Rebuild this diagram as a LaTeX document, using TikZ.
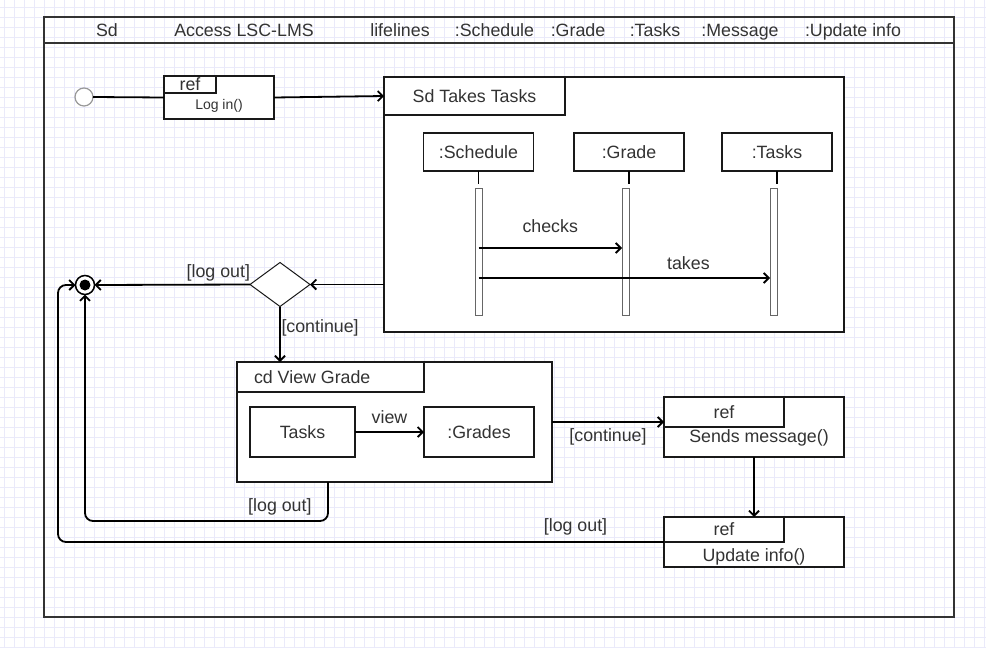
\documentclass[tikz,border=0pt]{standalone}
\usepackage{fontspec}
\setmainfont{Liberation Sans}
\usetikzlibrary{shapes.geometric,arrows.meta}

\begin{document}
\begin{tikzpicture}[x=1pt, y=-1pt,
    every node/.style={font=\fontsize{17.8}{21}\selectfont, text=black!80, inner sep=0pt, outer sep=0pt},
    box/.style={draw=black!90, fill=white, line width=1.2pt},
    tab/.style={box, anchor=north west},
    head/.style={box, minimum width=110, minimum height=38},
    bar/.style={draw=black!60, fill=white, line width=1pt, minimum width=7, minimum height=127},
    flow/.style={draw=black, line width=1.8pt, -{Straight Barb[length=5pt,width=10pt]}},
    lbl/.style={inner sep=0pt},
    gridline/.style={draw={rgb,255:red,234;green,234;blue,250}, line width=0.8pt}]

\useasboundingbox (0,0) rectangle (986,648);
\foreach \gx in {4.7,14.7,...,984.7} \draw[gridline] (\gx,0) -- (\gx,648);
\foreach \gy in {7.3,17.3,...,647.3} \draw[gridline] (0,\gy) -- (986,\gy);

\node[draw=black!80, line width=2pt, minimum width=910, minimum height=600] (sd) at (499,317) {};
\draw[black!80, line width=2pt] (sd.west |- 0,43) -- (sd.east |- 0,43);
\foreach \t/\x/\n in {Sd/107/hsd, Access LSC-LMS/244/hacc, lifelines/400/hlife, :Schedule/494.5/hsch,
    :Grade/578/hgrd, :Tasks/655/htsk, :Message/740/hmsg, :Update info/853/hupd}
    \node[anchor=base] (\n) at (\x,36) {\t};

\node[circle, draw=black!40, line width=1.2pt, fill=white, minimum size=18] (start) at (84,97) {};
\node[box, minimum width=110, minimum height=43] (login) at (219,97.5) {};
\node[tab, minimum width=52, minimum height=17] (lgtab) at (login.north west) {ref};
\node[font=\fontsize{14}{16}\selectfont] (lgtxt) at (219,106) {Log in()};
\draw[line width=1.8pt] (start.east) -- (login.west);

\node[box, minimum width=460, minimum height=255] (tk) at (614,204.5) {};
\node[tab, minimum width=181, minimum height=38] (tktab) at (tk.north west) {Sd Takes Tasks};
\draw[flow] (login.east) -- (tk.west |- tktab.west);

\node[head] (lsch) at (478.5,152) {:Schedule};
\node[head] (lgrd) at (629,152) {:Grade};
\node[head] (ltsk) at (777,152) {:Tasks};
\foreach \n in {lsch,lgrd,ltsk} \draw[line width=1.2pt] (\n.south) -- ++(0,13);
\node[bar] (bsch) at (478.5,252) {};
\node[bar] (bgrd) at (625.5,252) {};
\node[bar] (btsk) at (773.5,252) {};
\draw[flow] (bsch.center |- 0,248) -- node[lbl, above=15pt] {checks} (bgrd.west |- 0,248);
\draw[flow] (bsch.center |- 0,278) -- node[lbl, pos=0.72, above=8.7pt] {takes} (btsk.west |- 0,278);

\node[diamond, draw=black!90, fill=white, line width=1pt, minimum width=60, minimum height=44] (dec) at (280,284.5) {};
\node[circle, draw=black, line width=1.5pt, fill=white, minimum size=19] (end) at (85,285) {};
\fill (end.center) circle (5.5);
\draw[flow] (tk.west |- dec.east) -- (dec.east);
\draw[flow] (dec.west) -- node[lbl, pos=0, anchor=south east, yshift=3pt] {[log out]} (end.east);

\node[box, minimum width=315, minimum height=120] (cdv) at (394.5,422) {};
\node[tab, minimum width=187, minimum height=30] (cdtab) at (cdv.north west) {};
\node[anchor=west] (cdtxt) at ([xshift=17pt]cdtab.west) {cd View Grade};
\draw[flow] (dec.south) -- node[lbl, pos=0.38, anchor=west, xshift=1.5pt] {[continue]} (dec.south |- cdv.north);

\node[box, minimum width=105, minimum height=50] (vtsk) at (302.5,432) {Tasks};
\node[box, minimum width=110, minimum height=50] (vgrd) at (479,432) {:Grades};
\draw[flow] (vtsk.east) -- node[lbl, above=8.7pt] {view} (vgrd.west);

\node[box, minimum width=180, minimum height=60] (sm) at (754,427) {};
\node[tab, minimum width=120, minimum height=30] (smtab) at (sm.north west) {ref};
\node (smtxt) at (759,438) {Sends message()};
\draw[flow] (cdv.east) -- node[lbl, below=6.7pt] {[continue]} (cdv.east -| sm.west);

\node[box, minimum width=180, minimum height=50] (ui) at (754,542) {};
\node[tab, minimum width=120, minimum height=25] (uitab) at (ui.north west) {ref};
\node (uitxt) at (754,557) {Update info()};
\draw[flow] (sm.south) -- (ui.north);

\coordinate (lo1) at (58,285);
\coordinate (lo2) at (328,521);
\draw[flow, rounded corners=8pt] (ui.west) -| node[lbl, pos=0.073, above=6.7pt] {[log out]} (lo1) -- (end.west);
\draw[flow, rounded corners=8pt] (lo2 |- cdv.south) -- (lo2) -| node[lbl, pos=0.099, above=5.7pt] {[log out]} (end.south);

\end{tikzpicture}
\end{document}
